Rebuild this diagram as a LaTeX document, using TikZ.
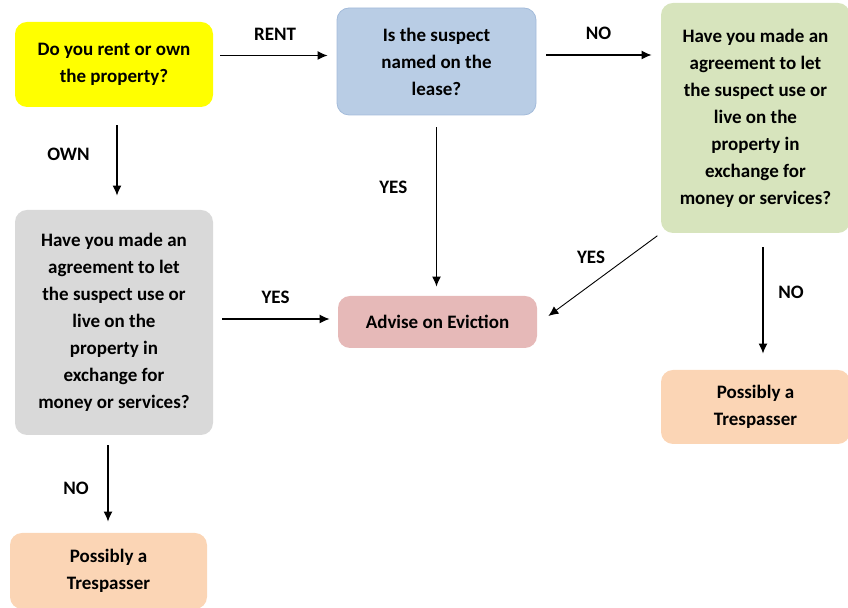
\documentclass[tikz,border=0pt]{standalone}
\usepackage{fontspec}
\setmainfont{Carlito}
\usetikzlibrary{shapes,arrows,positioning}
\usetikzlibrary{arrows.meta}
\definecolor{flow-yellow}{HTML}{FFFF00}
\definecolor{flow-blue}{HTML}{B9CDE5}
\definecolor{flow-blueline}{HTML}{A3BBDA}
\definecolor{flow-green}{HTML}{D7E4BD}
\definecolor{flow-grey}{HTML}{D9D9D9}
\definecolor{flow-pink}{HTML}{E6B9B8}
\definecolor{flow-orange}{HTML}{FBD5B5}

\tikzset{
  box/.style={rectangle, rounded corners=6pt, align=center, inner sep=0pt,
    font=\fontsize{9.5}{13.5}\selectfont\bfseries},
  arr/.style={-{Latex[length=5pt,width=4.5pt]}, line width=0.6pt},
  lbl/.style={font=\fontsize{9.5}{13.5}\selectfont\bfseries}
}

\begin{document}
\begin{tikzpicture}[x=0.5pt,y=-0.5pt]
\useasboundingbox (0,0) rectangle (848,608);
\node[box, fill=flow-yellow, minimum width=99pt, minimum height=42.5pt] (rentown) at (114,64.5) {Do you rent or own\\the property?};
\node[box, fill=flow-blue, draw=flow-blueline, line width=0.4pt, minimum width=99.5pt, minimum height=53.5pt] (lease) at (436.5,61.5) {Is the suspect\\named on the\\lease?};
\node[box, fill=flow-green, minimum width=94.5pt, minimum height=115pt] (agreeR) at (755.5,118) {Have you made an\\agreement to let\\the suspect use or\\live on the\\property in\\exchange for\\money or services?};
\node[box, fill=flow-grey, minimum width=99pt, minimum height=112.5pt] (agreeL) at (114,322.5) {Have you made an\\agreement to let\\the suspect use or\\live on the\\property in\\exchange for\\money or services?};
\node[box, fill=flow-pink, minimum width=99.5pt, minimum height=26pt] (evict) at (437.5,322) {Advise on Eviction};
\node[box, fill=flow-orange, minimum width=94.5pt, minimum height=37pt] (trespR) at (755.5,407) {Possibly a\\Trespasser};
\node[box, fill=flow-orange, minimum width=98.5pt, minimum height=38pt] (trespL) at (108.5,571) {Possibly a\\Trespasser};

\draw[arr, shorten <=3.5pt, shorten >=4.5pt] ([yshift=4.5pt]rentown.east) -- ([yshift=4.5pt]rentown.east -| lease.west)
  node[lbl, midway, above=4pt] {RENT};
\draw[arr, shorten <=5pt, shorten >=4.5pt] ([yshift=3.25pt]lease.east) -- ([yshift=3.25pt]lease.east -| agreeR.west)
  node[lbl, midway, above=4pt] {NO};
\draw[arr, shorten <=9pt, shorten >=7pt] ([xshift=1.5pt]rentown.south) -- ([xshift=1.5pt]rentown.south |- agreeL.north)
  node[lbl, pos=0.46, left=10pt] {OWN};
\draw[arr, shorten <=6pt, shorten >=4.5pt] (lease.south) -- (lease.south |- evict.north)
  node[lbl, pos=0.4, left=11pt] {YES};
\draw[arr, line width=0.45pt, shorten <=2pt] (agreeR.south west) -- ([xshift=5.5pt,yshift=3pt]evict.east)
  node[lbl, pos=0.45, above left=0pt and -1pt] {YES};
\draw[arr, shorten <=7pt, shorten >=8pt] ([xshift=3.75pt]agreeR.south) -- ([xshift=3.75pt]agreeR.south |- trespR.north)
  node[lbl, pos=0.43, right=4pt] {NO};
\draw[arr, shorten <=4.5pt, shorten >=4pt] ([yshift=1.75pt]agreeL.east) -- ([yshift=1.75pt]agreeL.east -| evict.west)
  node[lbl, midway, above=4pt] {YES};
\draw[arr, shorten <=5pt, shorten >=5.5pt] ([xshift=-3pt]agreeL.south) -- ([xshift=-3pt]agreeL.south |- trespL.north)
  node[lbl, pos=0.54, left=6pt] {NO};
\end{tikzpicture}
\end{document}
